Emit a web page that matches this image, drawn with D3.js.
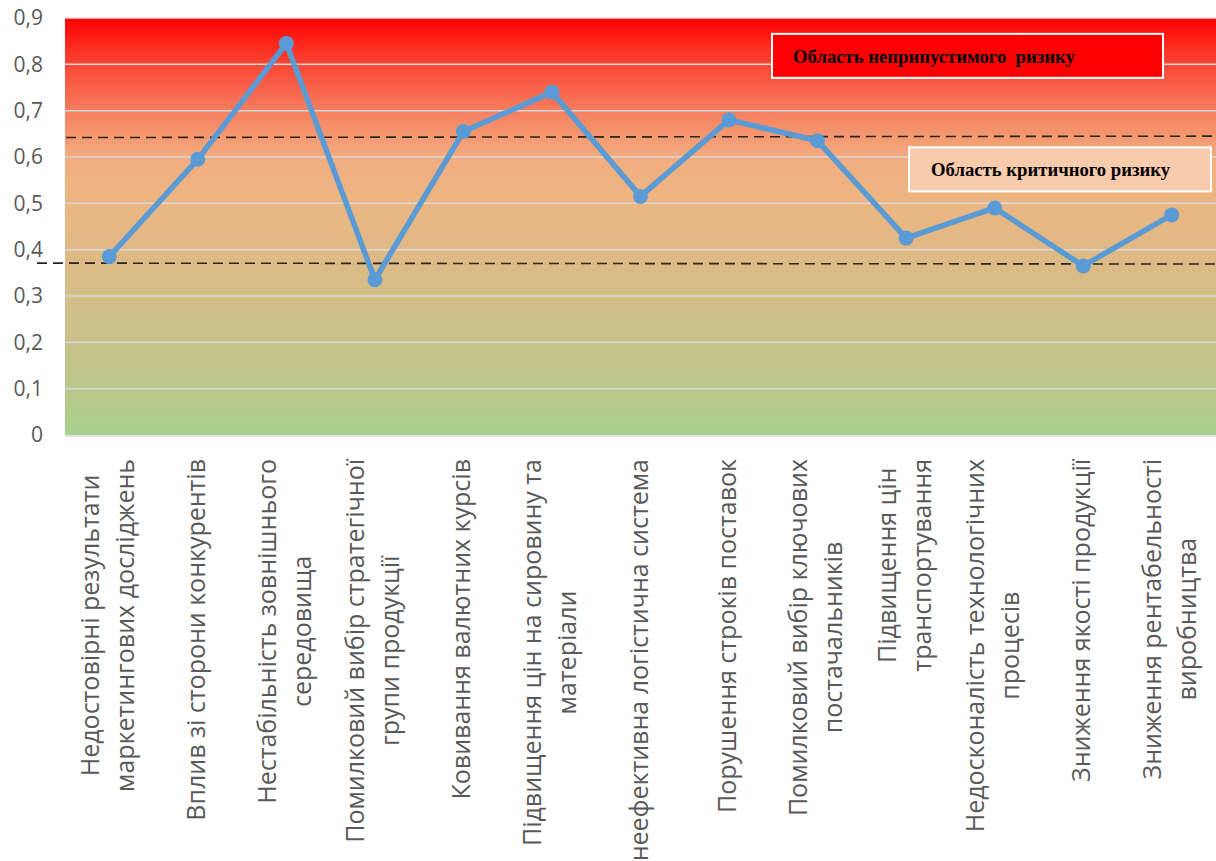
<!DOCTYPE html>
<html>
<head>
<meta charset="utf-8">
<script src="https://cdn.jsdelivr.net/npm/d3@7"></script>
<style>
  body { margin: 0; background: #fff; }
  svg { display: block; }
</style>
</head>
<body>
<svg id="chart" width="1216" height="861"></svg>
<script>
// data
const categories = [
    ['Недостовірні результати', 'маркетингових досліджень'],
    ['Вплив зі сторони конкурентів'],
    ['Нестабільність зовнішнього', 'середовища'],
    ['Помилковий вибір стратегічної', 'групи продукції'],
    ['Ковивання валютних курсів'],
    ['Підвищення цін на сировину та', 'матеріали'],
    ['неефективна логістична система'],
    ['Порушення строків поставок'],
    ['Помилковий вибір ключових', 'постачальників'],
    ['Підвищення цін', 'транспортування'],
    ['Недосконалість технологічних', 'процесів'],
    ['Зниження якості продукції'],
    ['Зниження рентабельності', 'виробництва']
];
const riskValues = [0.385, 0.595, 0.845, 0.335, 0.655, 0.74, 0.515, 0.68, 0.635, 0.425, 0.49, 0.365, 0.475];
const yTicks = [0, 0.1, 0.2, 0.3, 0.4, 0.5, 0.6, 0.7, 0.8, 0.9];
// threshold lines [start value, end value]
const criticalLine = [0.642, 0.645];
const acceptableLine = [0.371, 0.369];
const zoneLabels = ['Область неприпустимого  ризику', 'Область критичного ризику'];
const zoneValues = [0.855, 0.61];

var svg = d3.select('#chart');
var margin = {top: 18, right: 0, bottom: 426, left: 65};
var width = 1216 - margin.left - margin.right,
    height = 861 - margin.top - margin.bottom;

var g = svg.append('g')
    .attr('transform', 'translate(' + margin.left + ',' + margin.top + ')');

var xScale = d3.scaleBand().domain(d3.range(categories.length)).range([0, width]);
var yScale = d3.scaleLinear().domain([0, 0.9]).range([height, 0]);

// background gradient
var grad = svg.append('defs').append('linearGradient')
    .attr('id', 'bg').attr('x1', 0).attr('x2', 0).attr('y1', 0).attr('y2', 1);
var stops = [
    ['#ff0000', 0], ['#fb4634', 0.111], ['#f67e5e', 0.222], ['#f3ad80', 0.333],
    ['#ebb682', 0.444], ['#e0b985', 0.556], ['#d3be88', 0.667], ['#c7c38a', 0.778],
    ['#bac88b', 0.889], ['#a9d08e', 1]
];
grad.selectAll('stop').data(stops).join('stop')
    .attr('offset', d => d[1]).attr('stop-color', d => d[0]);

g.append('rect')
    .attr('width', width).attr('height', height)
    .attr('fill', 'url(#bg)');

// gridlines
g.selectAll('.grid')
    .data(yTicks.slice(1))
    .join('line')
    .attr('class', 'grid')
    .attr('x1', 0).attr('x2', width)
    .attr('y1', d => yScale(d)).attr('y2', d => yScale(d))
    .attr('stroke', '#d9d9d9').attr('stroke-width', 1.5);

g.append('line')
    .attr('x1', 0).attr('x2', width)
    .attr('y1', height + 1).attr('y2', height + 1)
    .attr('stroke', '#d9d9d9').attr('stroke-width', 1.5);

// y axis
var yAxis = g.append('g')
    .call(d3.axisLeft(yScale).tickValues(yTicks).tickSize(0).tickPadding(22)
        .tickFormat(d => d === 0 ? '0' : d3.format('.1f')(d).replace('.', ',')));
yAxis.select('.domain').remove();
yAxis.selectAll('text')
    .attr('font-family', 'Open Sans, sans-serif')
    .attr('font-size', '21px')
    .attr('fill', '#595959');

// x labels
var xLabels = g.selectAll('.xlabel')
    .data(categories)
    .join('text')
    .attr('class', 'xlabel')
    .attr('font-family', 'Open Sans, sans-serif')
    .attr('font-size', '25px')
    .attr('fill', '#595959')
    .attr('text-anchor', 'middle')
    .attr('transform', (d, i) => {
        var cx = xScale(i) + xScale.bandwidth() / 2;
        return 'translate(' + cx + ',' + (height + 24) + ') rotate(-90)';
    });
xLabels.each(function(d) {
    var t = d3.select(this);
    var n = d.length;
    var lineH = 35;
    var lines = t.selectAll('tspan').data(d).join('tspan')
        .attr('dy', (s, j) => j === 0 ? ((-(n - 1) / 2) * lineH + 7) : lineH)
        .text(s => s);
    var maxLen = d3.max(lines.nodes(), nd => nd.getComputedTextLength());
    lines.attr('x', -maxLen / 2);
});

// threshold dashed lines
function dashed(vals, x0) {
    g.append('line')
        .attr('x1', x0).attr('x2', width)
        .attr('y1', yScale(vals[0])).attr('y2', yScale(vals[1]))
        .attr('stroke', '#2b2418').attr('stroke-width', 1.6)
        .attr('stroke-dasharray', '10,6');
}
dashed(criticalLine, 1);
dashed(acceptableLine, -28);

// data line
var line = d3.line()
    .x((d, i) => xScale(i) + xScale.bandwidth() / 2)
    .y(d => yScale(d));

g.append('path')
    .datum(riskValues)
    .attr('d', line)
    .attr('fill', 'none')
    .attr('stroke', '#5b9bd5')
    .attr('stroke-width', 5.5)
    .attr('stroke-linejoin', 'round');

g.selectAll('.dot')
    .data(riskValues)
    .join('circle')
    .attr('class', 'dot')
    .attr('cx', (d, i) => xScale(i) + xScale.bandwidth() / 2)
    .attr('cy', d => yScale(d))
    .attr('r', 7.5)
    .attr('fill', '#5b9bd5');

// zone boxes
var boxes = [
    {x: 707, w: 391, fill: '#ff0000', tx: 21},
    {x: 844, w: 302, fill: '#f8cbad', tx: 22}
];
boxes.forEach((b, i) => {
    var bg = g.append('g')
        .attr('transform', 'translate(' + b.x + ',' + (yScale(zoneValues[i]) - 5) + ')');
    bg.append('rect')
        .attr('width', b.w).attr('height', 44)
        .attr('fill', b.fill)
        .attr('stroke', '#fff').attr('stroke-width', 2);
    bg.append('text')
        .attr('x', b.tx).attr('y', 29)
        .attr('font-family', 'Liberation Serif, Times New Roman, serif')
        .attr('font-weight', 'bold')
        .attr('font-size', '18.7px')
        .attr('fill', '#000')
        .style('white-space', 'pre')
        .text(zoneLabels[i]);
});
</script>
</body>
</html>
